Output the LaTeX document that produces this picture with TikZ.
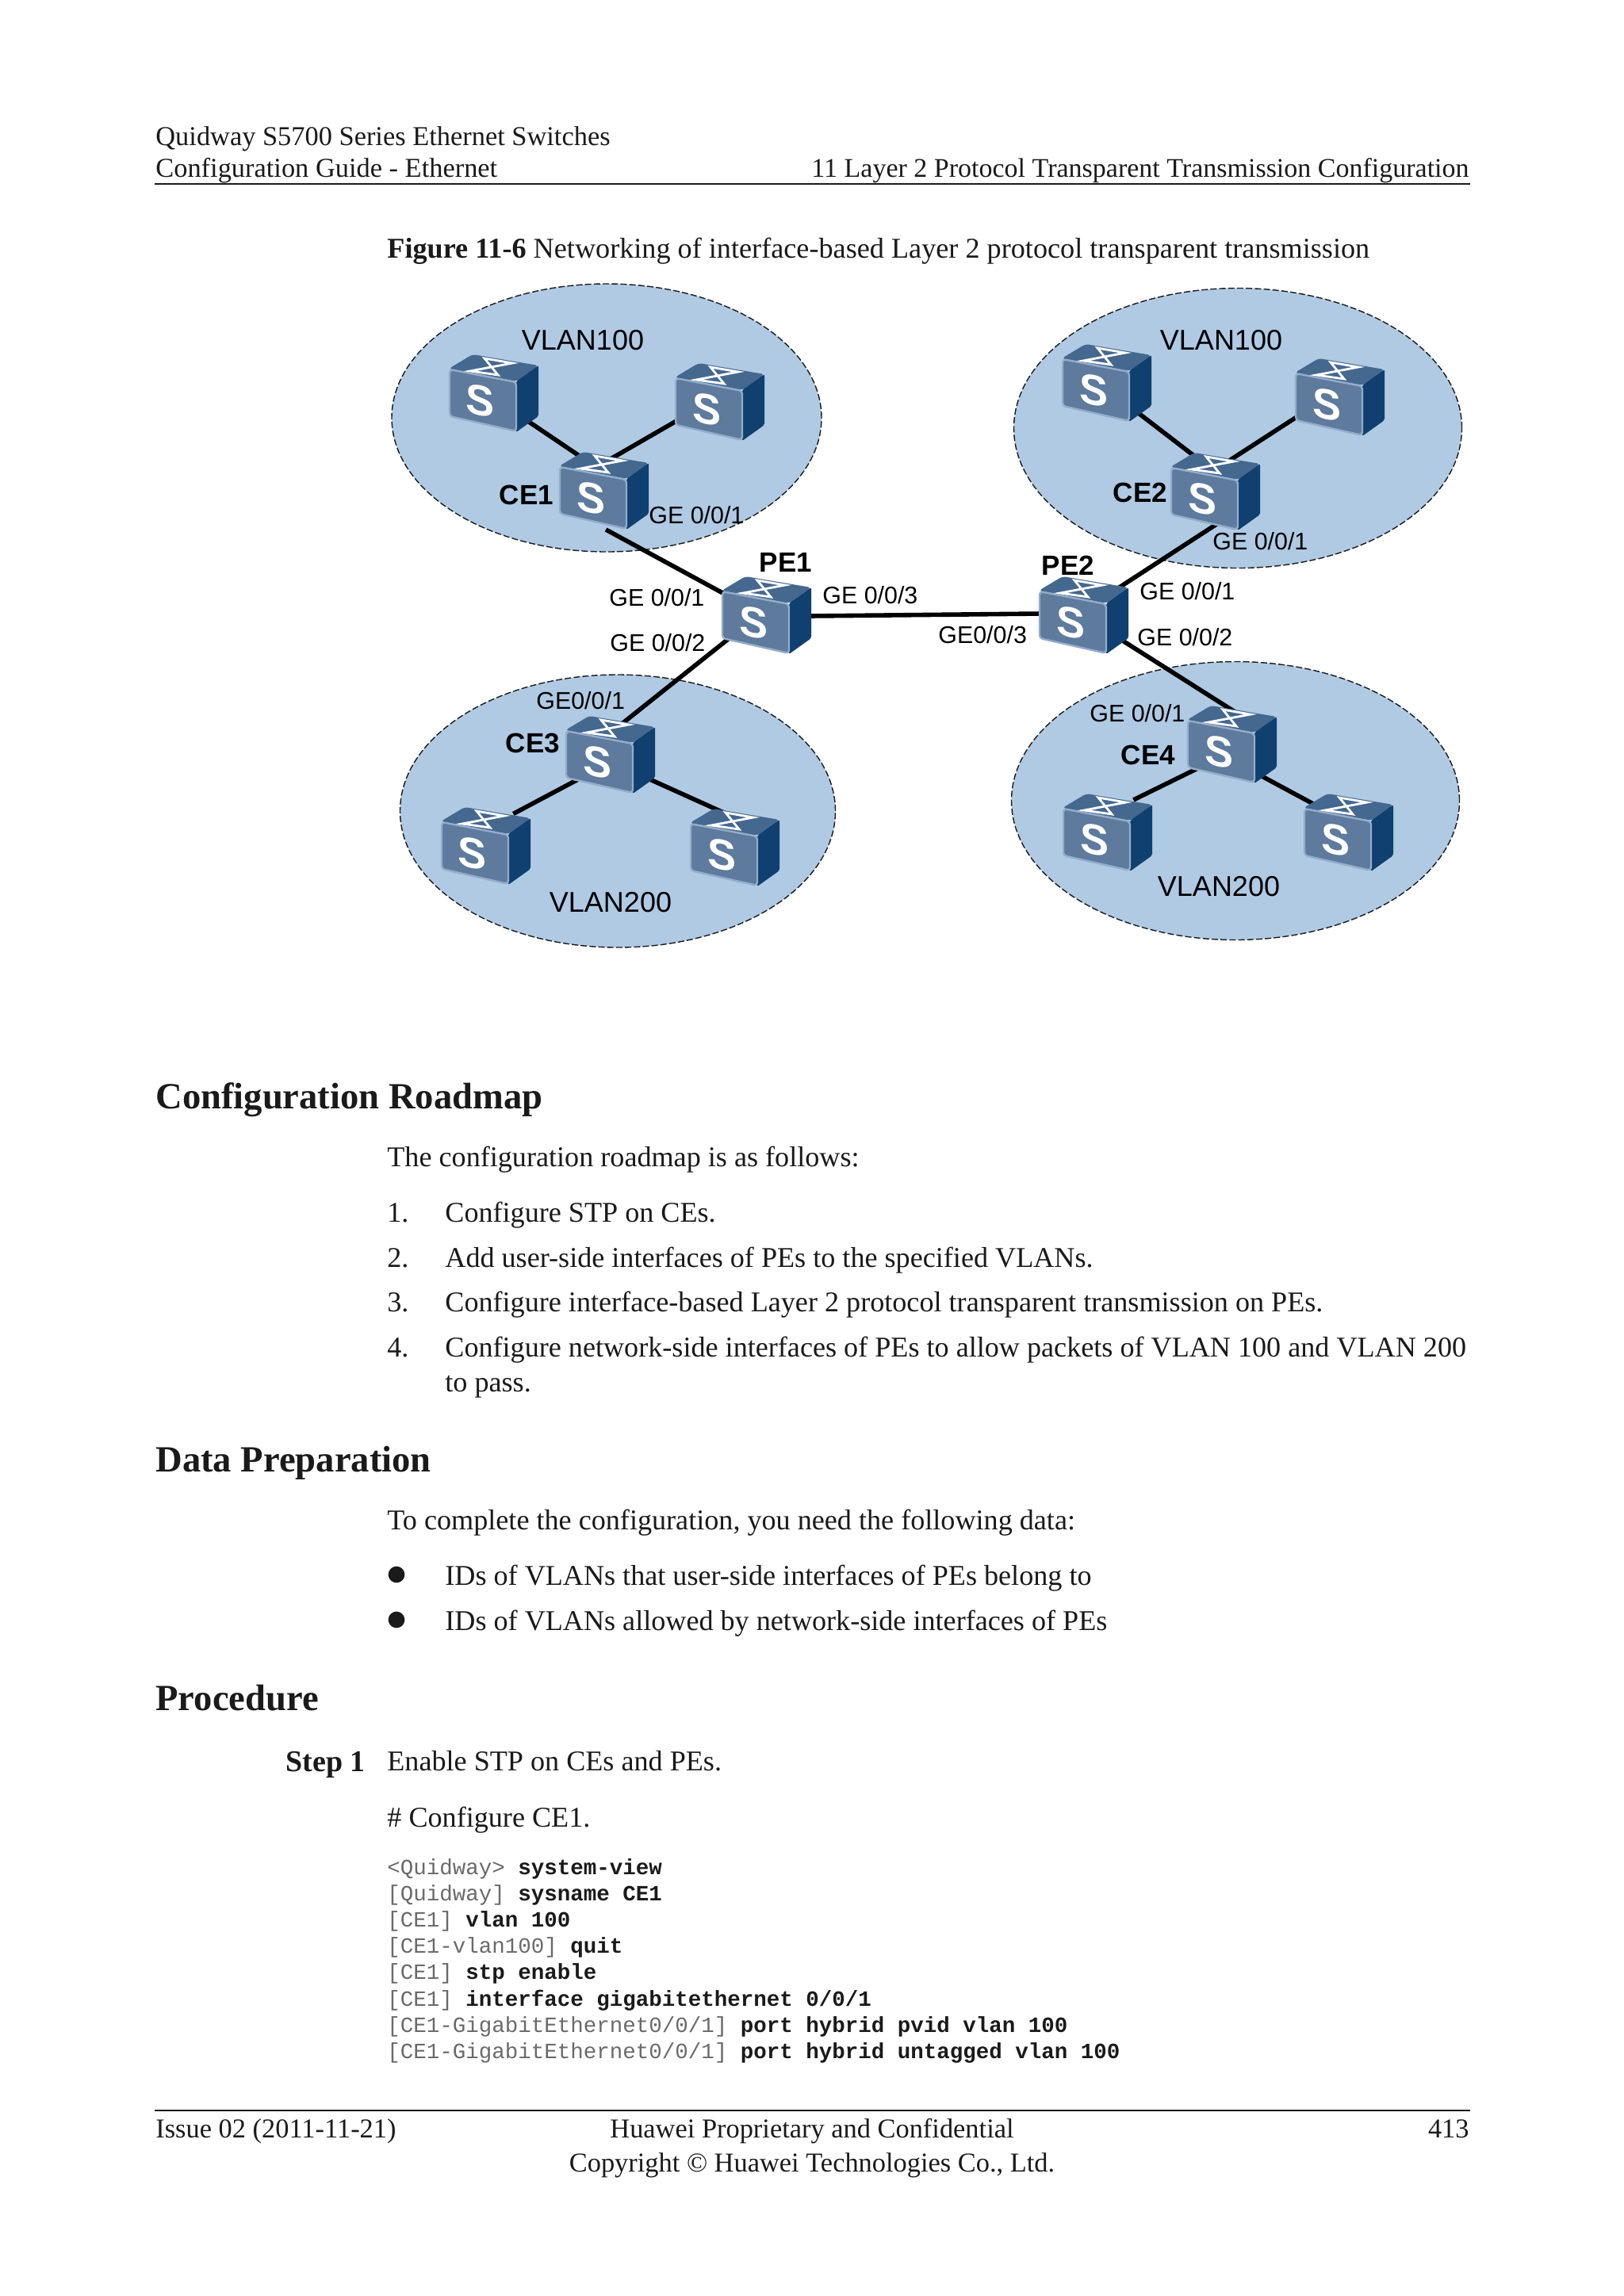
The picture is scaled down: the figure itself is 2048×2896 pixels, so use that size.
\documentclass[tikz,border=0pt]{standalone}
\usepackage{fontspec}
\setmainfont{Liberation Serif}
\setsansfont{Liberation Sans}
\setmonofont{Liberation Mono}
\newfontfamily\symbfont{DejaVu Sans}
\usepackage{xcolor}
\usepackage{tikz}
\usetikzlibrary{shapes.geometric}
\definecolor{zonebg}{HTML}{B0CAE4}
\definecolor{swtop}{HTML}{45688F}
\definecolor{swfront}{HTML}{5E7A9C}
\definecolor{swside}{HTML}{0F406F}
\definecolor{swedge}{HTML}{93ADCA}
\definecolor{ink}{HTML}{1A1A1A}
% switch body, drawn over the links
\newcommand{\swtart}[1]{
  \begin{scope}[shift={(#1.north west)}]
    \fill[swtop,rounded corners=2pt] (30,0) -- (113,14) -- (85,34) -- (0,18) -- cycle;
    \fill[swside,rounded corners=1pt] (85,34) -- (113,14) -- (113,78) -- (85,98) -- cycle;
    \draw[swedge,fill=swfront,line width=1.2pt,rounded corners=2pt] (1,19) -- (85,35) -- (85,97) -- (1,78) -- cycle;
    \draw[white,line width=1.4pt,line join=miter] (45,5) -- (62,26) -- (27,21) -- (80,11) -- cycle;
    \node[swletter] (#1s) at (40,58) {S};
  \end{scope}
}
\begin{document}
\begin{tikzpicture}[
  x=0.5pt,y=-0.5pt,
  zone/.style={ellipse,draw=ink,fill=zonebg,line width=0.7pt,dash pattern=on 4pt off 1.6pt,inner sep=0pt,outer sep=0pt},
  swbox/.style={minimum width=56.5pt,minimum height=49pt,inner sep=0pt,outer sep=0pt,anchor=north west},
  swletter/.style={font=\sffamily\bfseries\fontsize{27}{27}\selectfont,text=white,inner sep=0pt,transform shape,yslant=-0.19},
  link/.style={draw=black,line width=2.8pt,shorten <=-9pt,shorten >=-9pt},
  port/.style={font=\sffamily\fontsize{15.2}{15.2}\selectfont,text=black,anchor=base west,inner sep=0pt},
  vlantxt/.style={font=\sffamily\fontsize{18}{18}\selectfont,text=black,anchor=base,inner sep=0pt},
  devtxt/.style={font=\sffamily\bfseries\fontsize{17.5}{17.5}\selectfont,text=black,anchor=base,inner sep=0pt},
  bodytxt/.style={font=\fontsize{18.07}{18.07}\selectfont,text=ink,anchor=base west,inner sep=0pt},
  pagetxt/.style={font=\fontsize{17.2}{17.2}\selectfont,text=ink,anchor=base west,inner sep=0pt},
  headtxt/.style={font=\bfseries\fontsize{23.3}{23.3}\selectfont,text=ink,anchor=base west,inner sep=0pt},
  codetxt/.style={font=\ttfamily\fontsize{13.75}{13.75}\selectfont,text=ink!65,anchor=base west,inner sep=0pt},
  rulel/.style={draw=ink,line width=0.6pt}
]
\useasboundingbox (0,0) rectangle (2048,2896);
\fill[white] (0,0) rectangle (2048,2896);
% page header
\node[pagetxt] (hdra) at (196,183) {Quidway S5700 Series Ethernet Switches};
\node[pagetxt] (hdrb) at (196,223) {Configuration Guide - Ethernet};
\node[pagetxt,font=\fontsize{17}{17}\selectfont,anchor=base east] (hdrc) at (1853,223) {11 Layer 2 Protocol Transparent Transmission Configuration};
\draw[rulel] (195,232) -- (1854,232);
\node[bodytxt,font=\fontsize{18.1}{18.1}\selectfont] (cap) at (488,325) {\textbf{Figure 11-6} Networking of interface-based Layer 2 protocol transparent transmission};
% VLAN zones
\node[zone,minimum width=271pt,minimum height=169pt] (zone1) at (765,527) {};
\node[zone,minimum width=282.5pt,minimum height=176.5pt] (zone2) at (1561,540) {};
\node[zone,minimum width=274.5pt,minimum height=172pt] (zone3) at (779,1023) {};
\node[zone,minimum width=282.5pt,minimum height=175.5pt] (zone4) at (1558,1010) {};
% switch places
\foreach \n/\x/\y in {s1/566/447,s2/851/458,ce1/705/570,pe1/910/727,s3/1339/434,s4/1633/452,ce2/1476/571,pe2/1310/727,ce3/713/903,s5/556/1018,s6/870/1020,ce4/1497/890,s7/1340/1001,s8/1644/1001}{
  \node[swbox] (\n) at (\x,\y) {};
}
% links
\draw[link] (s1.-38) -- (ce1.128);
\draw[link] (s2.-156) -- (ce1.64);
\draw[link,shorten <=0pt] (ce1.-87) -- (pe1.153);
\draw[link] (pe1.-1) -- (pe2.178);
\draw[link] (pe1.-147) -- (ce3.61);
\draw[link] (pe2.37) -- (ce2.-102);
\draw[link] (pe2.-33) -- (ce4.100);
\draw[link] (ce4.-147) -- (s7.45);
\draw[link] (ce4.-42) -- (s8.143);
\draw[link] (s3.-42) -- (ce2.123);
\draw[link] (s4.-155) -- (ce2.56);
\draw[link] (ce3.-145) -- (s5.44);
\draw[link] (ce3.-31) -- (s6.117);
% switches
\foreach \n in {s1,s2,ce1,pe1,s3,s4,ce2,pe2,ce3,s5,s6,ce4,s7,s8}{
  \swtart{\n}
}
% zone and device labels
\node[vlantxt] (vlana) at (735,441) {VLAN100};
\node[vlantxt] (vlanb) at (1540,441) {VLAN100};
\node[vlantxt] (vlanc) at (770,1150) {VLAN200};
\node[vlantxt] (vland) at (1537,1130) {VLAN200};
\node[devtxt] (lce1) at (664,636) {CE1};
\node[devtxt] (lce2) at (1438,633) {CE2};
\node[devtxt] (lce3) at (672,949) {CE3};
\node[devtxt] (lce4) at (1448,964) {CE4};
\node[devtxt] (lpe1) at (991,721) {PE1};
\node[devtxt] (lpe2) at (1347,725) {PE2};
% port labels
\node[port] (pa) at (818,660) {GE 0/0/1};
\node[port] (pb) at (768,764) {GE 0/0/1};
\node[port] (pc) at (769,821) {GE 0/0/2};
\node[port] (pd) at (1037,761) {GE 0/0/3};
\node[port] (pe) at (1183,811) {GE0/0/3};
\node[port] (pf) at (1437,756) {GE 0/0/1};
\node[port] (pg) at (1434,814) {GE 0/0/2};
\node[port] (ph) at (1529,693) {GE 0/0/1};
\node[port] (pi) at (1374,910) {GE 0/0/1};
\node[port] (pj) at (676,894) {GE0/0/1};
% roadmap
\node[headtxt] (roadhd) at (196,1398) {Configuration Roadmap};
\node[bodytxt] (roadtx) at (488,1471) {The configuration roadmap is as follows:};
\node[bodytxt] (numa) at (488,1541) {1.};
\node[bodytxt] (ita) at (561,1541) {Configure STP on CEs.};
\node[bodytxt] (numb) at (488,1598) {2.};
\node[bodytxt] (itb) at (561,1598) {Add user-side interfaces of PEs to the specified VLANs.};
\node[bodytxt] (numc) at (488,1654) {3.};
\node[bodytxt] (itc) at (561,1654) {Configure interface-based Layer 2 protocol transparent transmission on PEs.};
\node[bodytxt] (numd) at (488,1711) {4.};
\node[bodytxt] (itd) at (561,1711) {Configure network-side interfaces of PEs to allow packets of VLAN 100 and VLAN 200};
\node[bodytxt] (ite) at (561,1755) {to pass.};
% data preparation
\node[headtxt] (datahd) at (196,1856) {Data Preparation};
\node[bodytxt] (datatx) at (488,1929) {To complete the configuration, you need the following data:};
\node[bodytxt,font=\fontsize{13.5}{13.5}\selectfont] (bula) at (488,1993) {\symbfont ●};
\node[bodytxt] (dta) at (561,1999) {IDs of VLANs that user-side interfaces of PEs belong to};
\node[bodytxt,font=\fontsize{13.5}{13.5}\selectfont] (bulb) at (488,2050) {\symbfont ●};
\node[bodytxt] (dtb) at (561,2056) {IDs of VLANs allowed by network-side interfaces of PEs};
% procedure
\node[headtxt] (prochd) at (196,2157) {Procedure};
\node[bodytxt,font=\bfseries\fontsize{19}{19}\selectfont] (stepa) at (360,2234) {Step 1};
\node[bodytxt] (steptx) at (488,2233) {Enable STP on CEs and PEs.};
\node[bodytxt] (cfgtx) at (488,2304) {\# Configure CE1.};
\node[codetxt] (coda) at (488,2364) {<Quidway> \textbf{\color{ink}system-view}};
\node[codetxt] (codb) at (488,2397) {[Quidway] \textbf{\color{ink}sysname CE1}};
\node[codetxt] (codc) at (488,2430) {[CE1] \textbf{\color{ink}vlan 100}};
\node[codetxt] (codd) at (488,2463) {[CE1-vlan100] \textbf{\color{ink}quit}};
\node[codetxt] (code) at (488,2496) {[CE1] \textbf{\color{ink}stp enable}};
\node[codetxt] (codf) at (488,2530) {[CE1] \textbf{\color{ink}interface gigabitethernet 0/0/1}};
\node[codetxt] (codg) at (488,2563) {[CE1-GigabitEthernet0/0/1] \textbf{\color{ink}port hybrid pvid vlan 100}};
\node[codetxt] (codh) at (488,2596) {[CE1-GigabitEthernet0/0/1] \textbf{\color{ink}port hybrid untagged vlan 100}};
% page footer
\draw[rulel] (195,2662) -- (1854,2662);
\node[pagetxt] (ftra) at (196,2696) {Issue 02 (2011-11-21)};
\node[pagetxt,anchor=base] (ftrb) at (1024,2696) {Huawei Proprietary and Confidential};
\node[pagetxt,anchor=base east] (ftrc) at (1853,2696) {413};
\node[pagetxt,anchor=base] (ftrd) at (1024,2739) {Copyright © Huawei Technologies Co., Ltd.};
\end{tikzpicture}
\end{document}
